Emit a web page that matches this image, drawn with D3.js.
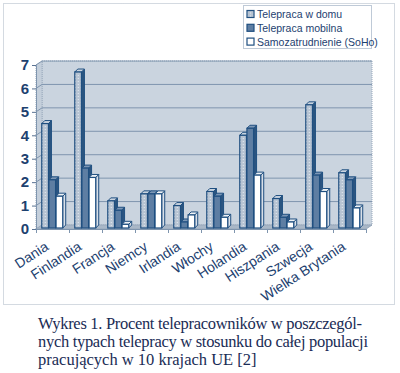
<!DOCTYPE html>
<html>
<head>
<meta charset="utf-8">
<script src="https://cdn.jsdelivr.net/npm/d3@7"></script>
<style>
  body { margin: 0; background: #fff; }
  svg { display: block; }
</style>
</head>
<body>
<svg width="400" height="373"></svg>
<script>
var countries = ["Dania", "Finlandia", "Francja", "Niemcy", "Irlandia", "Włochy", "Holandia", "Hiszpania", "Szwecja", "Wielka Brytania"];
var seriesNames = ["Telepraca w domu", "Telepraca mobilna", "Samozatrudnienie (SoHo)"];
var home = [4.5, 6.7, 1.2, 1.5, 1.0, 1.6, 4.0, 1.3, 5.3, 2.4];
var mobile = [2.1, 2.6, 0.8, 1.5, 0.3, 1.4, 4.3, 0.5, 2.3, 2.1];
var soho = [1.4, 2.2, 0.2, 1.5, 0.6, 0.5, 2.3, 0.3, 1.6, 0.9];
var yTicks = [0, 1, 2, 3, 4, 5, 6, 7];
var caption = ["Wykres 1. Procent telepracowników w poszczegól-",
               "nych typach telepracy w stosunku do całej populacji",
               "pracujących w 10 krajach UE [2]"];

var svg = d3.select("svg");
var navy = "#1d416f", edge = "#1f4f80";
var fills = ["url(#dots)", "#5e7ea3", "#ffffff"];
var dx = 6, dy = -4, bd = 3; // wall depth, bar depth

var defs = svg.append("defs");
var pat = defs.append("pattern").attr("id", "dots").attr("width", 3).attr("height", 3)
    .attr("patternUnits", "userSpaceOnUse");
pat.append("rect").attr("width", 3).attr("height", 3).attr("fill", "#b7c4d3");
pat.append("rect").attr("width", 1).attr("height", 1).attr("fill", "#e4e9ef");

// outer frame
svg.append("rect").attr("x", 3.5).attr("y", 3.5).attr("width", 391).attr("height", 301)
    .attr("fill", "none").attr("stroke", "#a9b4c2").attr("stroke-dasharray", "1,1");

var x0 = d3.scaleBand().domain(countries).range([36, 366]).paddingInner(0.35).paddingOuter(0.175);
var x1 = d3.scaleBand().domain([0, 1, 2]).range([0, x0.bandwidth()]);
var xEdge = d3.scaleLinear().domain([0, countries.length]).range([36, 366]);
var y = d3.scaleLinear().domain([0, 7]).range([229, 65]);

var g = svg.append("g");

// back wall
g.append("rect").attr("x", 36 + dx).attr("y", y(7) + dy).attr("width", 330).attr("height", y(0) - y(7))
    .attr("fill", "#cad4df").attr("stroke", "#98a8bb").attr("stroke-dasharray", "1,1");
// side wall
g.append("path")
    .attr("d", "M36," + y(0) + "L36," + y(7) + "L" + (36 + dx) + "," + (y(7) + dy) + "L" + (36 + dx) + "," + (y(0) + dy) + "Z")
    .attr("fill", "#c4cfdb").attr("stroke", "#98a8bb").attr("stroke-dasharray", "1,1");
// floor
g.append("path")
    .attr("d", "M36," + y(0) + "L" + (36 + dx) + "," + (y(0) + dy) + "L" + (366 + dx) + "," + (y(0) + dy) + "L366," + y(0) + "Z")
    .attr("fill", "#a9b7c7").attr("stroke", "#98a8bb");

// gridlines on wall
g.selectAll(".grid").data(yTicks.slice(1)).enter().append("path")
    .attr("d", function(d) { return "M36," + y(d) + "L" + (36 + dx) + "," + (y(d) + dy) + "L" + (366 + dx) + "," + (y(d) + dy); })
    .attr("fill", "none").attr("stroke", "#7f95ae").attr("stroke-width", 1);

// y axis
var yAxis = g.append("g").attr("transform", "translate(36,0)")
    .call(d3.axisLeft(y).tickValues(yTicks).tickFormat(d3.format("d")).tickSize(4).tickPadding(3));
yAxis.select(".domain").attr("stroke", "#7f95ae");
yAxis.selectAll(".tick line").attr("stroke", "#5a7393");
yAxis.selectAll("text").attr("fill", navy).style("font", "bold 15px 'Liberation Sans', Arial, sans-serif");

// x axis
var xAxis = g.append("g").attr("transform", "translate(0," + y(0) + ")")
    .call(d3.axisBottom(xEdge).tickValues(d3.range(0, countries.length + 1)).tickSize(4).tickFormat(""));
xAxis.select(".domain").attr("stroke", "#7f95ae");
xAxis.selectAll(".tick line").attr("stroke", "#7f95ae");

g.selectAll(".xlab").data(countries).enter().append("text")
    .attr("transform", function(d) { return "translate(" + (x0(d) + x0.bandwidth() / 2 - 3) + "," + (y(0) + 20) + ") rotate(-33)"; })
    .attr("text-anchor", "end")
    .attr("fill", navy).style("font", "14px 'Liberation Sans', Arial, sans-serif")
    .text(function(d) { return d; });

// bars
var data = countries.map(function(c, i) { return { c: c, v: [home[i], mobile[i], soho[i]] }; });
var grp = g.selectAll(".grp").data(data).enter().append("g")
    .attr("transform", function(d) { return "translate(" + x0(d.c) + ",0)"; });

var bars = grp.selectAll(".bar").data(function(d) { return d.v.map(function(v, k) { return { k: k, v: v }; }); })
    .enter().append("g");

bars.each(function(d) {
    var b = d3.select(this), bx = x1(d.k), w = x1.bandwidth() - 0.5, top = y(d.v), bot = y(0) - 1;
    var sideFill = d.k === 2 ? "#d9e0e8" : "#2c5580";
    var topFill = d.k === 0 ? "#c9d4e0" : d.k === 1 ? "#7c97b6" : "#eef2f6";
    b.append("path")
        .attr("d", "M" + (bx + w) + "," + bot + "L" + (bx + w) + "," + top + "L" + (bx + w + bd) + "," + (top - bd) + "L" + (bx + w + bd) + "," + (bot - bd) + "Z")
        .attr("fill", sideFill).attr("stroke", edge).attr("stroke-width", 1);
    b.append("path")
        .attr("d", "M" + bx + "," + top + "L" + (bx + bd) + "," + (top - bd) + "L" + (bx + w + bd) + "," + (top - bd) + "L" + (bx + w) + "," + top + "Z")
        .attr("fill", topFill).attr("stroke", edge).attr("stroke-width", 1);
    b.append("rect").attr("x", bx).attr("y", top).attr("width", w).attr("height", bot - top)
        .attr("fill", fills[d.k]).attr("stroke", edge).attr("stroke-width", 1.2);
});

// legend
var lg = svg.append("g").attr("transform", "translate(243,5)");
lg.append("rect").attr("x", 0.5).attr("y", 0.5).attr("width", 128).attr("height", 43)
    .attr("fill", "#fff").attr("stroke", "#7f95ae").attr("stroke-dasharray", "1,1");
var li = lg.selectAll(".li").data(seriesNames).enter().append("g")
    .attr("transform", function(d, i) { return "translate(4," + (4.5 + i * 13.8) + ")"; });
li.append("rect").attr("width", 7).attr("height", 7).attr("y", 1)
    .attr("fill", function(d, i) { return fills[i]; }).attr("stroke", edge).attr("stroke-width", 1.2);
li.append("text").attr("x", 10).attr("y", 8.5).attr("fill", navy)
    .style("font", "10.5px 'Liberation Sans', Arial, sans-serif").text(function(d) { return d; });

// caption
svg.selectAll(".cap").data(caption).enter().append("text")
    .attr("x", 38).attr("y", function(d, i) { return 329 + i * 18; })
    .attr("fill", "#1a2c55")
    .style("font", "16.5px 'Liberation Serif', 'Times New Roman', serif")
    .attr("textLength", function(d, i) { return i === 0 ? 324 : i === 1 ? 330 : null; })
    .attr("lengthAdjust", "spacing")
    .text(function(d) { return d; });
</script>
</body>
</html>
